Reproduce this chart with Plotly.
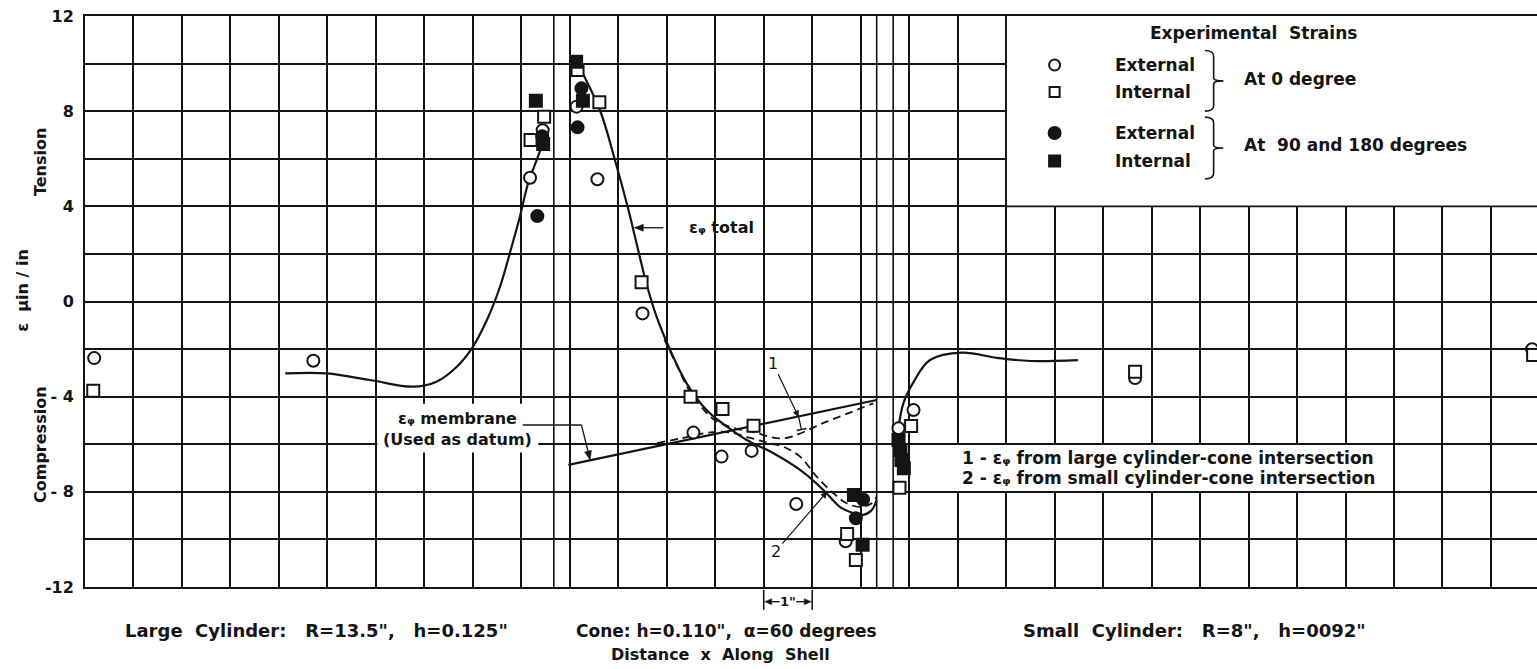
import plotly.graph_objects as go

# ---------------- data (x: distance along shell in inches, y: strain) ----------------
total_large_x = [4.13, 4.99, 5.88, 6.77, 7.25, 7.67, 7.98, 8.29, 8.56, 8.80, 8.97, 9.14, 9.39, 9.52]
total_large_y = [-3.02, -3.02, -3.30, -3.58, -3.37, -2.74, -1.97, -0.78, 0.62, 2.30, 3.56, 4.97, 6.37, 7.42]

total_cone_x = [10.14, 10.62, 10.93, 11.21, 11.41, 11.58, 11.79, 12.07, 12.41, 12.82, 13.24, 13.65,
                14.20, 14.75, 15.23, 15.57, 15.85, 16.05, 16.23, 16.33]
total_cone_y = [10.08, 8.05, 5.95, 3.85, 2.16, 0.76, -0.64, -2.04, -3.44, -4.56, -5.26, -5.82,
                -6.38, -7.08, -7.92, -8.63, -8.90, -8.97, -8.76, -8.34]

total_small_x = [16.78, 16.88, 17.08, 17.43, 18.09, 18.81, 19.49, 20.48]
total_small_y = [-5.30, -4.28, -3.42, -2.46, -2.15, -2.37, -2.50, -2.46]

membrane_x = [9.97, 16.33]
membrane_y = [-6.87, -4.14]

large_int_x = [11.95, 12.20, 12.45, 12.70, 13.00, 13.35, 13.80, 14.40, 15.30, 16.26]
large_int_y = [-1.60, -2.65, -3.70, -4.40, -5.00, -5.30, -5.50, -5.75, -5.05, -4.28]

small_int_x = [11.80, 12.30, 12.90, 13.30, 13.70, 14.10, 14.40, 14.75, 15.09, 15.44, 15.71, 15.99, 16.23, 16.33]
small_int_y = [-5.95, -5.75, -5.50, -5.50, -5.72, -5.95, -6.10, -6.52, -7.36, -8.06, -8.48, -8.63, -8.48, -8.20]

ext0_x = [0.19, 4.71, 9.18, 9.44, 10.14, 10.57, 11.50, 12.55, 13.13, 13.75, 14.67, 15.69, 16.78, 17.09, 21.66, 29.85]
ext0_y = [-2.38, -2.49, 5.20, 7.20, 8.19, 5.14, -0.50, -5.51, -6.52, -6.28, -8.51, -10.08, -5.33, -4.56, -3.22, -2.01]

int0_x = [0.17, 9.19, 9.47, 10.16, 10.61, 11.48, 12.49, 13.15, 13.79, 15.72, 15.90, 16.80, 17.04, 21.66, 29.87]
int0_y = [-3.75, 6.79, 7.77, 9.73, 8.37, 0.81, -4.00, -4.52, -5.22, -9.77, -10.87, -7.83, -5.23, -2.95, -2.25]

ext90_x = [9.33, 9.43, 10.24, 10.16, 16.05, 15.90]
ext90_y = [3.59, 6.95, 8.96, 7.32, -8.32, -9.11]

int90_x = [9.30, 9.45, 10.13, 10.27, 15.86, 16.04, 16.78, 16.82, 16.84, 16.89]
int90_y = [8.44, 6.62, 10.08, 8.44, -8.13, -10.22, -5.82, -6.24, -6.66, -7.01]

junction_lines = [9.67, 16.33, 16.67]
y_ticks = [-12, -8, -4, 0, 4, 8, 12]
y_ticktext = ["-12", "- 8", "- 4", "0", "4", "8", "12"]

# ---------------- layout constants ----------------
INK = "#141414"
FONT = "DejaVu Sans"
W, H = 1537, 669
ML, MR, MT, MB = 85, 0, 16, 82
X_MAX = 29.95
Y_MIN, Y_MAX = -12, 12
PLOT_W = W - ML - MR
PLOT_H = H - MT - MB
SX = PLOT_W / X_MAX            # px per inch
SY = PLOT_H / (Y_MAX - Y_MIN)  # px per strain unit
EPS_PHI = "ε\u1d69"            # epsilon with subscript phi

fig = go.Figure()


def curve(x, y, name, dash="solid", width=2.2, shape="spline"):
    fig.add_trace(go.Scatter(x=x, y=y, mode="lines", name=name, showlegend=False,
                             line=dict(color=INK, width=width, dash=dash, shape=shape, smoothing=1.0),
                             hoverinfo="skip"))


curve(total_large_x, total_large_y, "ε total (large cylinder)")
curve(total_cone_x, total_cone_y, "ε total (cone)")
curve(total_small_x, total_small_y, "ε total (small cylinder)")
curve(membrane_x, membrane_y, "ε membrane", shape="linear")
curve(large_int_x, large_int_y, "1 - from large cylinder-cone intersection", dash="8px,5px", width=1.8)
curve(small_int_x, small_int_y, "2 - from small cylinder-cone intersection", dash="8px,5px", width=1.8)


def pts(x, y, name, symbol, filled, size=12):
    fig.add_trace(go.Scatter(
        x=x, y=y, mode="markers", name=name, showlegend=False,
        marker=dict(symbol=symbol, size=size,
                    color=INK if filled else "white",
                    line=dict(color=INK, width=2))))


pts(ext0_x, ext0_y, "External, 0 degree", "circle", False)
pts(int0_x, int0_y, "Internal, 0 degree", "square", False)
pts(ext90_x, ext90_y, "External, 90 and 180 degrees", "circle", True)
pts(int90_x, int90_y, "Internal, 90 and 180 degrees", "square", True)

shapes = []
for xv in junction_lines:
    shapes.append(dict(type="line", xref="x", yref="y", x0=xv, x1=xv, y0=Y_MIN, y1=Y_MAX,
                       line=dict(color=INK, width=1.6), layer="below"))
# white boxes (legend box with border, text boxes)
shapes.append(dict(type="rect", xref="x", yref="y", x0=19, x1=X_MAX + 1, y0=4, y1=12.5,
                   fillcolor="white", line=dict(color=INK, width=1.6), layer="between"))
shapes.append(dict(type="rect", xref="x", yref="y", x0=17.97, x1=26.97, y0=-7.97, y1=-6.03,
                   fillcolor="white", line=dict(width=0), layer="between"))
shapes.append(dict(type="rect", xref="x", yref="y", x0=6.03, x1=9.35, y0=-4.3, y1=-6.35,
                   fillcolor="white", line=dict(width=0), layer="between"))


def arrow_shapes(x0, y0, x1, y1, sx=SX, sy=SY, xref="x", yref="y",
                 head_len=9, head_w=3.5, width=1.3):
    dxp, dyp = (x1 - x0) * sx, (y1 - y0) * sy
    L = (dxp ** 2 + dyp ** 2) ** 0.5
    ux, uy = dxp / L, dyp / L
    bx, by = x1 - ux * head_len / sx, y1 - uy * head_len / sy
    nx, ny = -uy, ux
    c1 = (bx + nx * head_w / sx, by + ny * head_w / sy)
    c2 = (bx - nx * head_w / sx, by - ny * head_w / sy)
    return [
        dict(type="line", xref=xref, yref=yref, x0=x0, y0=y0, x1=bx, y1=by,
             line=dict(color=INK, width=width)),
        dict(type="path", xref=xref, yref=yref,
             path=f"M {x1},{y1} L {c1[0]},{c1[1]} L {c2[0]},{c2[1]} Z",
             fillcolor=INK, line=dict(color=INK, width=0.5)),
    ]


# total label arrow
shapes += arrow_shapes(11.93, 3.1, 11.33, 3.1)
# membrane leader + arrow
shapes.append(dict(type="line", xref="x", yref="y", x0=9.03, x1=10.24, y0=-5.19, y1=-5.19,
                   line=dict(color=INK, width=1.3)))
shapes += arrow_shapes(10.24, -5.19, 10.42, -6.66)
# label 1 pointer tail and bar
shapes.append(dict(type="line", xref="x", yref="y", x0=14.72, x1=14.78, y0=-4.86, y1=-5.40,
                   line=dict(color=INK, width=1.3)))
shapes.append(dict(type="line", xref="x", yref="y", x0=14.68, x1=14.88, y0=-5.42, y1=-5.34,
                   line=dict(color=INK, width=1.6)))

# 1-inch dimension below the axis (paper coordinates derived from the x scale)
PSX, PSY = PLOT_W, PLOT_H
dim_y = -0.0257
for xa, xb in [(14.33, 14.02), (14.67, 14.98)]:
    shapes += arrow_shapes(xa / X_MAX, dim_y, xb / X_MAX, dim_y, sx=PSX, sy=PSY,
                           xref="paper", yref="paper", head_len=7, head_w=3)
for xv in [14.0, 15.0]:
    shapes.append(dict(type="line", xref="paper", yref="paper", x0=xv / X_MAX, x1=xv / X_MAX,
                       y0=-0.005, y1=-0.040, line=dict(color=INK, width=1.6)))


# braces in legend
def brace(x0, xm, xt, ytop, ybot):
    ymid = (ytop + ybot) / 2
    d = 0.12
    return (f"M {x0},{ytop} Q {xm},{ytop} {xm},{ytop - d * 2} L {xm},{ymid + d} "
            f"Q {xm},{ymid} {xt},{ymid} Q {xm},{ymid} {xm},{ymid - d} L {xm},{ybot + d * 2} "
            f"Q {xm},{ybot} {x0},{ybot}")


shapes.append(dict(type="path", xref="x", yref="y", path=brace(23.1, 23.28, 23.48, 10.55, 8.0),
                   line=dict(color=INK, width=1.6)))
shapes.append(dict(type="path", xref="x", yref="y", path=brace(23.1, 23.28, 23.48, 7.75, 5.15),
                   line=dict(color=INK, width=1.6)))


# legend keys
def key(cx, cy, kind, filled, r):
    rx, ry = r / SX, r / SY
    return dict(type="circle" if kind == "circle" else "rect", xref="x", yref="y",
                x0=cx - rx, x1=cx + rx, y0=cy - ry, y1=cy + ry,
                fillcolor=INK if filled else "white", line=dict(color=INK, width=2))


legend_rows = [9.94, 8.81, 7.08, 5.91]
shapes.append(key(20.0, legend_rows[0], "circle", False, 5.5))
shapes.append(key(20.0, legend_rows[1], "square", False, 5.0))
shapes.append(key(20.0, legend_rows[2], "circle", True, 6.0))
shapes.append(key(20.0, legend_rows[3], "square", True, 5.5))

ann = []


def txt(x, y, s, size=16, xanchor="center", xref="x", yref="y", angle=0, bold=True):
    ann.append(dict(x=x, y=y, xref=xref, yref=yref, text=s, showarrow=False, xanchor=xanchor,
                    yanchor="middle", textangle=angle,
                    font=dict(family=FONT, size=size, color=INK, weight="bold" if bold else "normal")))


def label_arrow(x, y, ax, ay, s, size=16):
    ann.append(dict(x=x, y=y, ax=ax, ay=ay, xref="x", yref="y", axref="x", ayref="y",
                    text=s, showarrow=True, arrowhead=2, arrowsize=1.1, arrowwidth=1.2,
                    arrowcolor=INK, font=dict(family=FONT, size=size, color=INK)))


# legend content
txt(24.11, 11.29, "Experimental  Strains", 17)
txt(21.2, legend_rows[0], "External", 17, "left")
txt(21.2, legend_rows[1], "Internal", 17, "left")
txt(21.2, legend_rows[2], "External", 17, "left")
txt(21.2, legend_rows[3], "Internal", 17, "left")
txt(23.87, 9.36, "At 0 degree", 17, "left")
txt(23.87, 6.58, "At  90 and 180 degrees", 17, "left")

# curve labels
txt(12.42, 3.1, f"{EPS_PHI} total", 16, "left")
txt(7.69, -4.9, f"{EPS_PHI} membrane", 16)
txt(7.69, -5.82, "(Used as datum)", 16)
label_arrow(14.72, -4.86, 14.19, -2.6, "1")
label_arrow(15.31, -7.99, 14.25, -10.49, "2")
txt(18.05, -6.58, f"1 - {EPS_PHI} from large cylinder-cone intersection", 17, "left")
txt(18.05, -7.42, f"2 - {EPS_PHI} from small cylinder-cone intersection", 17, "left")

# y labels
txt(-0.031, 5.86, "Tension", 16, xref="paper", angle=-90)
txt(-0.031, -5.99, "Compression", 16, xref="paper", angle=-90)
txt(-0.0436, 0.48, "ε  μin / in", 16, xref="paper", angle=-90)

# bottom captions
txt(4.78, -0.077, 'Large  Cylinder:   R=13.5",   h=0.125"', 18, yref="paper")
txt(13.24, -0.077, 'Cone: h=0.110",  α=60 degrees', 17, yref="paper")
txt(22.88, -0.077, 'Small  Cylinder:   R=8",   h=0092"', 18, yref="paper")
txt(13.10, -0.119, "Distance  x  Along  Shell", 16, yref="paper")

# 1 inch dimension text
txt(14.5, dim_y, '1"', 13, yref="paper")

grid = dict(gridcolor=INK, gridwidth=1.5)
fig.update_layout(
    width=W, height=H,
    margin=dict(l=ML, r=MR, t=MT, b=MB, autoexpand=False),
    paper_bgcolor="white", plot_bgcolor="white",
    font=dict(family=FONT, color=INK),
    shapes=shapes, annotations=ann,
    showlegend=False,
    xaxis=dict(range=[0, X_MAX], tick0=0, dtick=1, showgrid=True, **grid,
               showticklabels=False, ticks="", zeroline=False, showline=True, mirror=True,
               linecolor=INK, linewidth=2, fixedrange=True),
    yaxis=dict(range=[Y_MIN, Y_MAX], tickmode="array", tickvals=y_ticks, ticktext=y_ticktext,
               showgrid=True, **grid, ticks="", zeroline=False,
               minor=dict(tickmode="linear", tick0=0, dtick=2, showgrid=True, ticks="", **grid),
               showline=True, mirror=True, linecolor=INK, linewidth=2, ticklabelstandoff=6,
               tickfont=dict(family=FONT, size=16, color=INK, weight="bold"), fixedrange=True),
)

fig.write_html("out.html")
